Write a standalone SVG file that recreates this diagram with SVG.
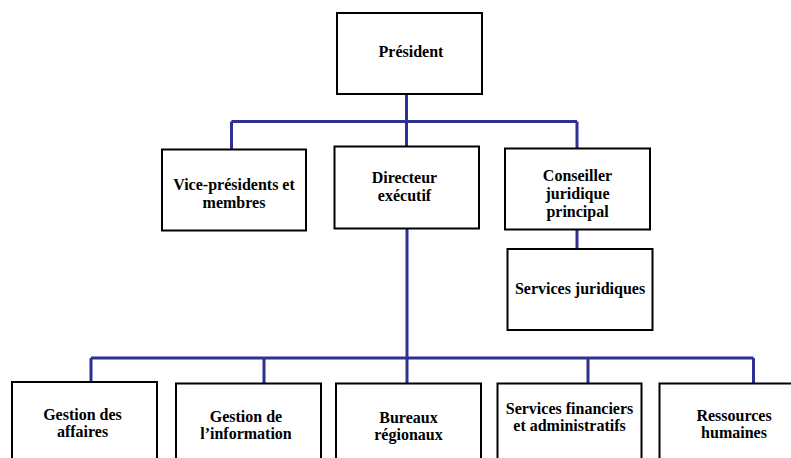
<svg xmlns="http://www.w3.org/2000/svg" width="791" height="458" viewBox="0 0 791 458">
<style>
.box{fill:#fff;stroke:#000;stroke-width:2}
.c{fill:none;stroke:#2e3192;stroke-width:3}
</style>
<rect width="791" height="458" fill="#fff"/>
<g id="connectors">
<path class="c" d="M406.5 94V147M231.5 121.5H577M231.5 121.5V149M577 121.5V148M577 229V249M407 228V358M91 358H753.5M91 358V382M264 358V383M407 358V383M588 358V383M753.5 358V383"/>
</g>
<g font-family="Liberation Serif, Times New Roman, serif" font-weight="bold" font-size="16" fill="#000" text-anchor="middle">
<g id="president"><rect class="box" x="337" y="13" width="145" height="81"/><text x="411" y="57">Président</text></g>
<g id="vice"><rect class="box" x="162" y="149.5" width="144" height="81"/><text x="234" y="190">Vice-présidents et</text><text x="234" y="208">membres</text></g>
<g id="directeur"><rect class="box" x="334.5" y="146.5" width="144.5" height="82"/><text x="404.5" y="183">Directeur</text><text x="404.5" y="201">exécutif</text></g>
<g id="conseiller"><rect class="box" x="505" y="148.5" width="145" height="81"/><text x="577.5" y="181">Conseiller</text><text x="577.5" y="199">juridique</text><text x="577.5" y="217">principal</text></g>
<g id="services-juridiques"><rect class="box" x="507.5" y="249" width="145" height="81"/><text x="580" y="294">Services juridiques</text></g>
<g id="gestion-affaires"><rect class="box" x="12" y="382" width="145" height="90"/><text x="82.5" y="420">Gestion des</text><text x="82.5" y="437">affaires</text></g>
<g id="gestion-information"><rect class="box" x="176" y="383.5" width="145" height="90"/><text x="246" y="422">Gestion de</text><text x="246" y="439">l’information</text></g>
<g id="bureaux"><rect class="box" x="336" y="383.5" width="145" height="90"/><text x="408.5" y="423">Bureaux</text><text x="408.5" y="440">régionaux</text></g>
<g id="services-financiers"><rect class="box" x="497.5" y="383.5" width="144" height="90"/><text x="569.5" y="414">Services financiers</text><text x="569.5" y="431">et administratifs</text></g>
<g id="ressources"><rect class="box" x="659.5" y="383.5" width="145" height="90"/><text x="734" y="421">Ressources</text><text x="734" y="438">humaines</text></g>
</g>
</svg>
